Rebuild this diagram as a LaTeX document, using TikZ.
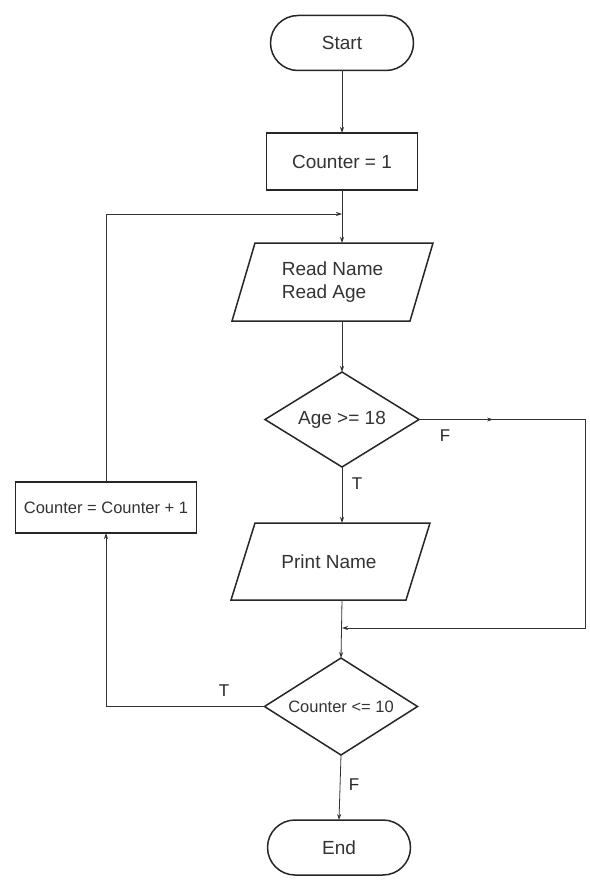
\documentclass[tikz,border=0pt]{standalone}
\usepackage{fontspec}
\setmainfont{Liberation Sans}
\usetikzlibrary{shapes.geometric,shapes.misc,arrows.meta,decorations.markings}
\begin{document}
\begin{tikzpicture}[x=1pt,y=-1pt,
 shapeline/.style={draw=black!85, line width=1.5pt},
 term/.style={shapeline, rounded rectangle, minimum width=143pt, minimum height=55pt, inner sep=0pt, outer sep=0pt, font=\fontsize{19}{22}\selectfont, text=black!80},
 procbox/.style={shapeline, rectangle, inner sep=0pt, outer sep=0pt, text=black!80},
 decis/.style={shapeline, diamond, aspect=1.6, inner sep=0pt, outer sep=0pt, text=black!80},
 iotext/.style={inner sep=0pt, outer sep=0pt, minimum height=78pt, align=left, font=\fontsize{19}{23}\selectfont, text=black!80},
 flow/.style={draw=black!80, line width=0.8pt, -{Stealth[length=6pt,width=4pt]}},
 lbl/.style={font=\fontsize{17}{20}\selectfont, text=black!85}
]
\useasboundingbox[fill=white] (0,0) rectangle (589,888);

% shapes
\node[term] (start) at (342,43) {Start};
\node[procbox, minimum width=151pt, minimum height=57pt, font=\fontsize{19}{22}\selectfont] (c1) at (342,161.5) {Counter = 1};

\draw[shapeline] (255,243) -- (433,243) -- (410,321) -- (232,321) -- cycle;
\node[iotext] (read) at (332.5,282) {Read Name\\Read Age};

\node[decis, minimum width=154pt, minimum height=95pt, font=\fontsize{19}{22}\selectfont] (age) at (342,419.5) {Age >= 18};

\draw[shapeline] (255,523) -- (430,523) -- (406,600) -- (231,600) -- cycle;
\node[iotext, minimum height=77pt] (print) at (329,561.5) {Print Name};

\node[decis, minimum width=153pt, minimum height=97pt, font=\fontsize{16.5}{20}\selectfont] (cnt) at (341,706.5) {Counter <= 10};

\node[term] (end) at (339,847.5) {End};

\node[procbox, minimum width=181pt, minimum height=51pt, font=\fontsize{16.5}{20}\selectfont] (inc) at (106,507.5) {Counter = Counter + 1};

% join points
\coordinate (join1) at (342,214);
\coordinate (join2) at (342,628);
\coordinate (fr) at (585,628);

% connectors
\draw[flow] (start) -- (c1);
\draw[flow] (c1.south) -- (c1.south |- read.north);
\draw[flow] (inc.north) |- (join1);
\draw[flow] (c1.south |- read.south) -- (age.north);
\draw[flow] (age.south) -- (age.south |- print.north);
\draw[flow, postaction={decorate}, decoration={markings, mark=at position 0.12 with {\arrow{Stealth[length=6pt,width=4pt]}}}] (age.east) -| (fr) -- (join2);
\draw[flow] (c1.south |- print.south) -- (cnt.north);
\draw[flow] (cnt.west) -| (inc.south);
\draw[flow] (cnt.south) -- (end.north);

% labels
\node[lbl] (lt1) at (357,484) {T};
\node[lbl] (lf1) at (445,436) {F};
\node[lbl] (lt2) at (224,691) {T};
\node[lbl] (lf2) at (354,785) {F};
\end{tikzpicture}
\end{document}
